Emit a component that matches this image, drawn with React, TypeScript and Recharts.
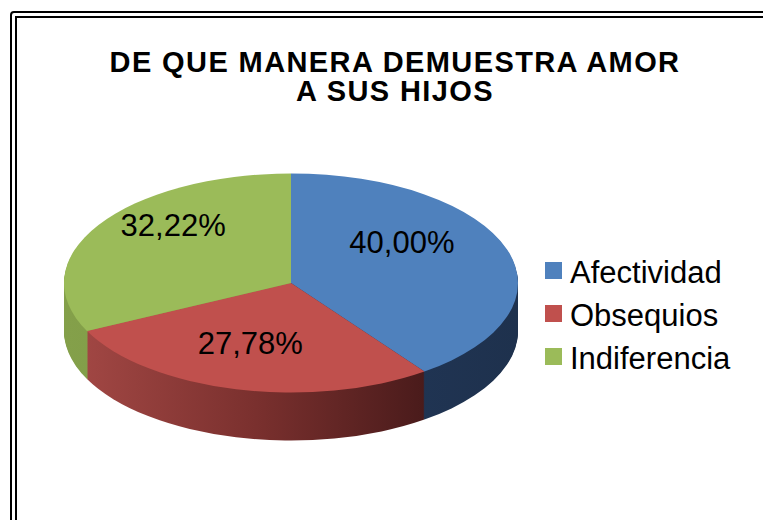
import { PieChart, Pie, Cell } from 'recharts';

const categories = ['Afectividad', 'Obsequios', 'Indiferencia'];
const percents = [40.0, 27.78, 32.22];
const topColors = ['#4F81BD', '#C0504D', '#9BBB59'];
const sideFills = ['url(#sideBlue)', 'url(#sideRed)', 'url(#sideGreen)'];
const titleLines = ['DE QUE MANERA DEMUESTRA AMOR', 'A SUS HIJOS'];

const data = categories.map((name, i) => ({ name, value: percents[i] }));

// flattened "3D" pie: circle squashed vertically + stacked layers for the rim
const RADIUS = 227;
const SCALE_Y = 109.5 / 227;
const CX = 286;
const CY = 250;
const DEPTH = 48 / SCALE_Y;
const LAYERS = 48;
const layerOffsets = Array.from({ length: LAYERS }, (_, i) => DEPTH * (LAYERS - i) / LAYERS);

const FONT = 'Arial, "Liberation Sans", sans-serif';

function renderLabel(props: any) {
  const { cx, cy, midAngle, outerRadius, value } = props;
  const rad = (-midAngle * Math.PI) / 180;
  const x = cx - 10 + outerRadius * 0.56 * Math.cos(rad);
  const y = cy - 16 / SCALE_Y + outerRadius * 0.72 * Math.sin(rad);
  return (
    <text
      x={x}
      y={y}
      transform={`translate(${x} ${y}) scale(1 ${1 / SCALE_Y}) translate(${-x} ${-y})`}
      textAnchor="middle"
      dominantBaseline="central"
      fill="#000"
      fontSize={31}
      fontFamily={FONT}
    >
      {value.toFixed(2).replace('.', ',')}%
    </text>
  );
}

export default function App() {
  return (
    <div
      style={{
        position: 'absolute',
        left: 0,
        top: 0,
        width: 763,
        height: 520,
        overflow: 'hidden',
        background: '#fff',
        fontFamily: FONT,
      }}
    >
      {/* double frame */}
      <div
        style={{
          position: 'absolute',
          left: 10,
          top: 11,
          width: 800,
          height: 600,
          border: '7px double #000',
          borderRadius: 4,
        }}
      />

      {/* Title */}
      {titleLines.map((line, i) => (
        <div
          key={line}
          style={{
            position: 'absolute',
            left: 0,
            top: 50 + i * 29,
            width: 790,
            height: 24,
            textAlign: 'center',
            fontWeight: 'bold',
            fontSize: 29,
            lineHeight: '24px',
            letterSpacing: 1.4,
            color: '#000',
          }}
        >
          {line}
        </div>
      ))}

      {/* Pie */}
      <div
        style={{
          position: 'absolute',
          left: 0,
          top: 160,
          width: 560,
          height: 600,
          transform: `scaleY(${SCALE_Y})`,
          transformOrigin: '0 0',
        }}
      >
        <PieChart width={560} height={600}>
          <defs>
            <linearGradient id="sideRed" x1="0" y1="0" x2="1" y2="0">
              <stop offset="0%" stopColor="#A04643" />
              <stop offset="50%" stopColor="#7A302E" />
              <stop offset="100%" stopColor="#4A1B1B" />
            </linearGradient>
            <linearGradient id="sideBlue" x1="0" y1="0" x2="1" y2="0">
              <stop offset="0%" stopColor="#22385A" />
              <stop offset="100%" stopColor="#1E314D" />
            </linearGradient>
            <linearGradient id="sideGreen" x1="0" y1="0" x2="1" y2="0">
              <stop offset="0%" stopColor="#84A04A" />
              <stop offset="100%" stopColor="#7A9544" />
            </linearGradient>
          </defs>
          {layerOffsets.map((off, k) => (
            <Pie
              key={`side-${k}`}
              data={data}
              dataKey="value"
              nameKey="name"
              cx={CX}
              cy={CY + off}
              outerRadius={RADIUS}
              startAngle={90}
              endAngle={-270}
              stroke="none"
              labelLine={false}
              isAnimationActive={false}
            >
              {data.map((d, i) => (
                <Cell key={d.name} fill={sideFills[i]} />
              ))}
            </Pie>
          ))}
          <Pie
            data={data}
            dataKey="value"
            nameKey="name"
            cx={CX}
            cy={CY}
            outerRadius={RADIUS}
            startAngle={90}
            endAngle={-270}
            stroke="none"
            labelLine={false}
            label={renderLabel}
            isAnimationActive={false}
          >
            {data.map((d, i) => (
              <Cell key={d.name} fill={topColors[i]} />
            ))}
          </Pie>
        </PieChart>
      </div>

      {/* Legend */}
      <div style={{ position: 'absolute', left: 545, top: 251 }}>
        {categories.map((name, i) => (
          <div
            key={name}
            style={{ display: 'flex', alignItems: 'flex-start', height: 43 }}
          >
            <div
              style={{
                width: 17,
                height: 17,
                marginTop: 11,
                background: topColors[i],
              }}
            />
            <span
              style={{
                marginLeft: 8,
                fontSize: 31,
                lineHeight: '43px',
                color: '#000',
                whiteSpace: 'nowrap',
              }}
            >
              {name}
            </span>
          </div>
        ))}
      </div>
    </div>
  );
}
